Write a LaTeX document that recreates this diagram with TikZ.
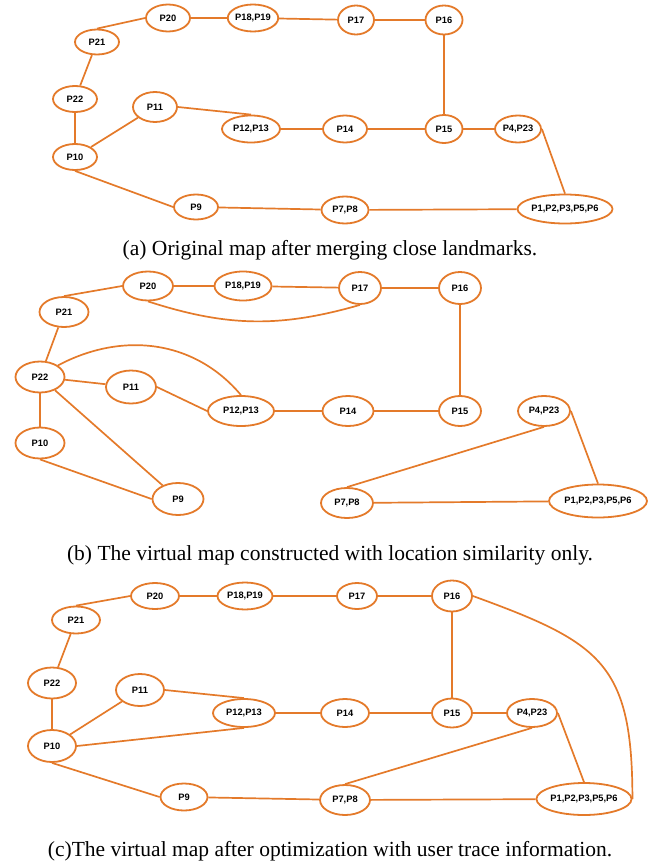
\documentclass[tikz,border=0pt]{standalone}
\usepackage{fontspec}
\setmainfont{Liberation Serif}
\newfontfamily\labelfont{Liberation Sans}
\usetikzlibrary{shapes.geometric}
\definecolor{mapOrange}{RGB}{228,122,42}

\begin{document}
\begin{tikzpicture}[x=1pt,y=1pt,
place_style/.style={draw=mapOrange,ellipse,line width=1.8pt,inner sep=0pt,fill=white,font=\labelfont\bfseries\fontsize{9.3}{10}\selectfont},
road_style/.style={draw=mapOrange,line width=1.7pt},
caption_style/.style={font=\fontsize{21.5}{24}\selectfont,inner sep=0pt}]

\useasboundingbox (0,0) rectangle (650,-867);

\foreach \n/\x/\y/\w/\h/\t in {a20/168/-18/44/27/P20,a1819/253/-18/50/27/{P18,P19},a17/356/-20/36/29/P17,a16/444/-20/37/29/P16,
  a21/97/-42/44/25/P21,a22/75/-99/44/26/P22,a11/155/-107/44/30/P11,a1213/251/-129/58/27/{P12,P13},a14/345/-129/44/27/P14,
  a15/444/-129/37/28/P15,a423/518/-129/46/27/{P4,P23},a10/75/-157/44/26/P10,a9/196/-207/44/25/P9,a78/345/-210/47/27/{P7,P8},
  a1/565/-209/86/29/{P1,P2,P3,P5,P6}}{
 \node[place_style,minimum width=\w pt,minimum height=\h pt] (\n) at (\x,\y) {\t};
}
\foreach \n/\x/\y/\w/\h/\t in {b20/148/-286/50/29/P20,b1819/243/-286/57/29/{P18,P19},b17/360/-288/42/32/P17,b16/460/-288/42/32/P16,
  b21/64/-312/49/30/P21,b22/40/-377/49/31/P22,b11/131/-387/50/33/P11,b1213/241/-411/66/30/{P12,P13},b14/348/-411/51/30/P14,
  b15/460/-411/42/30/P15,b423/544/-411/52/30/{P4,P23},b10/40/-443/49/31/P10,b9/178/-499/51/32/P9,b78/347/-503/52/30/{P7,P8},
  b1/598/-501/98/33/{P1,P2,P3,P5,P6}}{
 \node[place_style,minimum width=\w pt,minimum height=\h pt] (\n) at (\x,\y) {\t};
}
\foreach \n/\x/\y/\w/\h/\t in {c20/155/-596/48/26/P20,c1819/245/-596/55/27/{P18,P19},c17/357/-596/40/26/P17,c16/452/-596/40/31/P16,
  c21/76/-620/48/27/P21,c22/52/-683/48/31/P22,c11/140/-690/48/32/P11,c1213/244/-713/62/28/{P12,P13},c14/345/-713/48/28/P14,
  c15/452/-713/40/29/P15,c423/532/-713/50/28/{P4,P23},c10/52/-746/48/32/P10,c9/184/-797/47/27/P9,c78/345/-800/50/30/{P7,P8},
  c1/584/-799/93/32/{P1,P2,P3,P5,P6}}{
 \node[place_style,minimum width=\w pt,minimum height=\h pt] (\n) at (\x,\y) {\t};
}

\node[caption_style] (capA) at (330,-250) {(a) Original map after merging close landmarks.};
\node[caption_style] (capB) at (330,-555) {(b) The virtual map constructed with location similarity only.};
\node[caption_style] (capC) at (330,-851) {(c)The virtual map after optimization with user trace information.};

\begin{scope}[road_style]
\draw (a21.north) -- (a20.west);
\draw (a20) -- (a1819);
\draw (a1819) -- (a17);
\draw (a17) -- (a16);
\draw (a16) -- (a15);
\draw (a21) -- (a22);
\draw (a22) -- (a10);
\draw (a10) -- (a11);
\draw (a11.east) -- (a1213.north);
\draw (a1213) -- (a14);
\draw (a14) -- (a15);
\draw (a15) -- (a423);
\draw (a423.east) -- (a1.north);
\draw (a10.south) -- (a9.west);
\draw (a9) -- (a78);
\draw (a78) -- (a1);

\draw (b21.north) -- (b20.west);
\draw (b20) -- (b1819);
\draw (b1819) -- (b17);
\draw (b17) -- (b16);
\draw (b20.south) to [bend right=17] (b17.south);
\draw (b16) -- (b15);
\draw (b21) -- (b22);
\draw (b22) -- (b11);
\draw (b22.north east) to [out=28,in=130] (b1213.north);
\draw (b11.east) -- (b1213.west);
\draw (b1213) -- (b14);
\draw (b14) -- (b15);
\draw (b22) -- (b10);
\draw (b22) -- (b9);
\draw (b10.south) -- (b9.west);
\draw (b423.south) -- (b78.north);
\draw (b423.east) -- (b1.north);
\draw (b78) -- (b1);

\draw (c21.north) -- (c20.west);
\draw (c20) -- (c1819);
\draw (c1819) -- (c17);
\draw (c17) -- (c16);
\draw (c16) -- (c15);
\draw (c16.east) to [out=-20,in=90,looseness=1.35] (c1.east);
\draw (c21) -- (c22);
\draw (c22) -- (c10);
\draw (c10) -- (c11);
\draw (c11.east) -- (c1213.north);
\draw (c10.east) -- (c1213.south);
\draw (c1213) -- (c14);
\draw (c14) -- (c15);
\draw (c15) -- (c423);
\draw (c423.east) -- (c1.north);
\draw (c423.south) -- (c78.north);
\draw (c10.south) -- (c9.west);
\draw (c9) -- (c78);
\draw (c78) -- (c1);
\end{scope}
\end{tikzpicture}
\end{document}
